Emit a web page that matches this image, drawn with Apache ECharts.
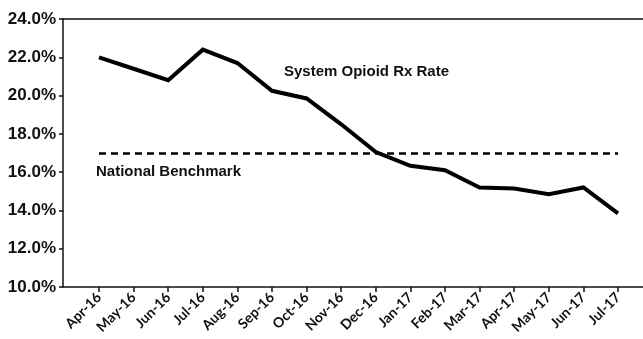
<!DOCTYPE html>
<html>
<head>
<meta charset="utf-8">
<script src="https://cdn.jsdelivr.net/npm/echarts@6/dist/echarts.min.js"></script>
<style>
  html, body { margin: 0; padding: 0; background: #fff; }
  #chart { width: 643px; height: 339px; }
</style>
</head>
<body>
<div id="chart"></div>
<script>
// Monthly categories
const months = ['Apr-16', 'May-16', 'Jun-16', 'Jul-16', 'Aug-16', 'Sep-16', 'Oct-16', 'Nov-16',
  'Dec-16', 'Jan-17', 'Feb-17', 'Mar-17', 'Apr-17', 'May-17', 'Jun-17', 'Jul-17'];
// System opioid prescription rate (%)
const systemRate = [22.0, 21.4, 20.8, 22.4, 21.7, 20.25, 19.85, 18.5,
  17.05, 16.33, 16.1, 15.2, 15.15, 14.85, 15.2, 13.85];
// National benchmark (%)
const benchmarkRate = 17.0;
// Y axis range (%)
const yMin = 10;
const yMax = 24;
const yStep = 2;

const boldFont = '"Liberation Sans", Arial, sans-serif';

const chart = echarts.init(document.getElementById('chart'), null, { renderer: 'canvas' });

chart.setOption({
  animation: false,
  backgroundColor: '#ffffff',
  grid: [
    // frame grid: y axis, bottom and top rules
    { left: 63, right: 0, top: 19, bottom: 52 },
    // data grid: first and last month sit on the outer ticks
    { left: 99, right: 25, top: 19, bottom: 52 }
  ],
  xAxis: [
    {
      gridIndex: 0, type: 'value', min: 0, max: 1, position: 'bottom',
      axisLine: { show: true, lineStyle: { color: '#111', width: 1.5 } },
      axisTick: { show: false }, axisLabel: { show: false }, splitLine: { show: false }
    },
    {
      gridIndex: 0, type: 'value', min: 0, max: 1, position: 'top',
      axisLine: { show: true, lineStyle: { color: '#111', width: 1.5 } },
      axisTick: { show: false }, axisLabel: { show: false }, splitLine: { show: false }
    },
    {
      gridIndex: 1, type: 'category', data: months, boundaryGap: false,
      axisLine: { show: false },
      axisTick: { show: true, length: 5, lineStyle: { color: '#111', width: 1.5 } },
      axisLabel: {
        rotate: 45, margin: 8, color: '#111',
        fontFamily: 'Lato, "Open Sans", sans-serif', fontWeight: 'bold', fontSize: 14,
        interval: 0
      },
      splitLine: { show: false }
    }
  ],
  yAxis: [
    {
      gridIndex: 0, type: 'value', min: yMin, max: yMax, interval: yStep,
      axisLine: { show: true, lineStyle: { color: '#111', width: 1.5 } },
      axisTick: { show: true, inside: false, length: 4, lineStyle: { color: '#111', width: 1.5 } },
      axisLabel: {
        margin: 7, color: '#111', fontFamily: boldFont, fontWeight: 'bold', fontSize: 17,
        formatter: v => v.toFixed(1) + '%'
      },
      splitLine: { show: false }
    },
    {
      gridIndex: 1, type: 'value', min: yMin, max: yMax, interval: yStep, show: false
    }
  ],
  series: [
    {
      name: 'System Opioid Rx Rate',
      type: 'line',
      xAxisIndex: 2, yAxisIndex: 1,
      data: systemRate,
      symbol: 'none',
      lineStyle: { color: '#000', width: 4, join: 'miter' },
      markLine: {
        silent: true,
        symbol: 'none',
        label: { show: false },
        lineStyle: { color: '#000', width: 2.5, type: [7, 5] },
        data: [{ yAxis: benchmarkRate }]
      }
    }
  ],
  graphic: [
    {
      type: 'text', left: 284, top: 64,
      style: { text: 'System Opioid Rx Rate', font: 'bold 15px ' + boldFont, fill: '#111' }
    },
    {
      type: 'text', left: 96, top: 164,
      style: { text: 'National Benchmark', font: 'bold 15px ' + boldFont, fill: '#111' }
    }
  ]
});
</script>
</body>
</html>
